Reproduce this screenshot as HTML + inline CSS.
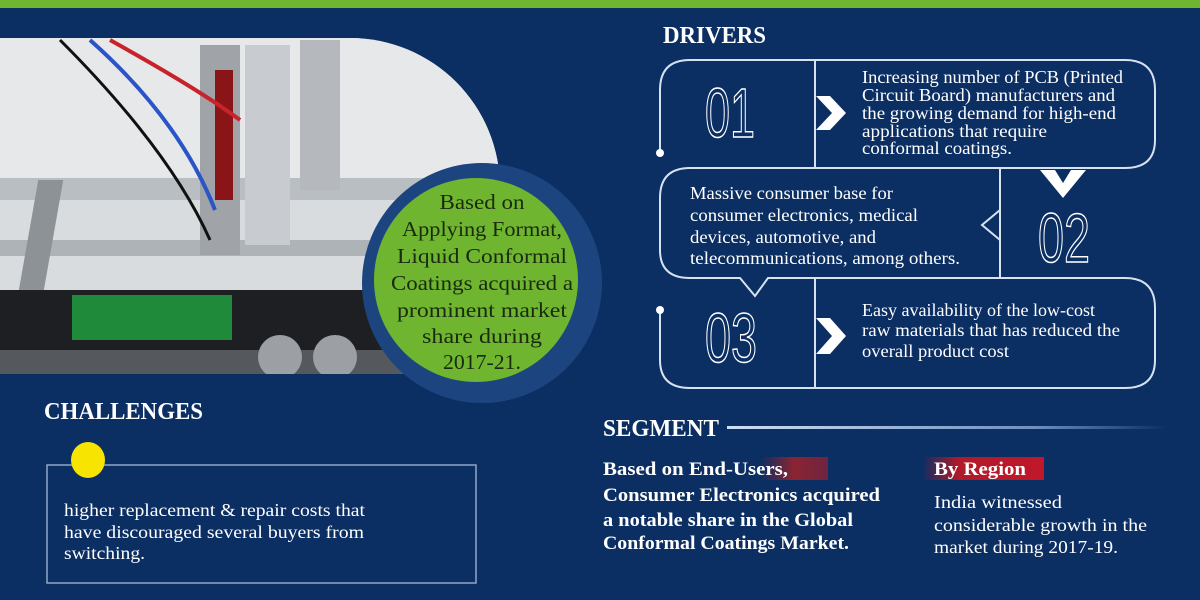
<!DOCTYPE html>
<html><head><meta charset="utf-8"><style>
body{margin:0;width:1200px;height:600px;background:#0b2e63;position:relative;overflow:hidden}
svg text{font-family:"Liberation Serif",serif}
</style></head><body>
<svg style="position:absolute;left:0;top:0" width="1200" height="600">
<defs><clipPath id="ph"><path d="M0 38 H350 A150 150 0 0 1 500 188 V374 H0Z"/></clipPath>
<linearGradient id="sg" x1="0" x2="1"><stop offset="0" stop-color="#cfe0f5"/><stop offset="0.7" stop-color="#6f8fc0"/><stop offset="1" stop-color="#0b2e63"/></linearGradient>
<linearGradient id="r1" x1="0" x2="1"><stop offset="0" stop-color="#8b2332" stop-opacity="0"/><stop offset="0.5" stop-color="#8b2332"/><stop offset="1" stop-color="#6e2440"/></linearGradient>
<linearGradient id="r2" x1="0" x2="1"><stop offset="0" stop-color="#b01a2a" stop-opacity="0"/><stop offset="0.3" stop-color="#b01a2a"/><stop offset="1" stop-color="#c0182a"/></linearGradient></defs>
<rect x="0" y="0" width="1200" height="8" fill="#6fb52f"/>
<g clip-path="url(#ph)">
<rect x="0" y="38" width="500" height="336" fill="#d9dcdf"/>
<rect x="0" y="38" width="500" height="140" fill="#e6e8ea"/>
<rect x="0" y="178" width="500" height="22" fill="#b9bec3"/>
<rect x="0" y="240" width="500" height="16" fill="#aeb3b8"/>
<rect x="70" y="180" width="25" height="110" fill="#8d9297" transform="skewX(-10)"/>
<rect x="0" y="290" width="500" height="60" fill="#1d1f22"/>
<rect x="0" y="350" width="500" height="24" fill="#55595d"/>
<rect x="72" y="295" width="160" height="45" fill="#1f8a3a"/>
<rect x="200" y="45" width="40" height="210" fill="#a0a4a8"/>
<rect x="215" y="70" width="18" height="130" fill="#8a1518"/>
<rect x="245" y="45" width="45" height="200" fill="#c8ccd0"/>
<rect x="300" y="40" width="40" height="150" fill="#b5b9bd"/>
<path d="M90 40 Q180 120 215 210" stroke="#2a55c8" stroke-width="4" fill="none"/>
<path d="M60 40 Q170 150 210 240" stroke="#111" stroke-width="3" fill="none"/>
<path d="M110 40 Q200 90 240 120" stroke="#c8232a" stroke-width="4" fill="none"/>
<circle cx="280" cy="357" r="22" fill="#9ca0a5"/><circle cx="335" cy="357" r="22" fill="#9ca0a5"/>
</g>
<circle cx="482" cy="283" r="120" fill="#1c4580"/>
<circle cx="476" cy="280" r="102" fill="#6fb52f"/>
<g fill="none" stroke="#d7e2f0" stroke-width="2">
<path d="M815 60 H690 Q660 60 660 90 V152"/>
<path d="M815 60 H1125 Q1155 60 1155 90 V140 Q1155 168 1125 168 H815 V60"/>
<path d="M1000 168 H690 Q660 168 660 198 V250 Q660 278 690 278 H740 L755 296 L768 278 H1000 V240 L982 225 L1000 210 Z"/>
<path d="M1000 168 V278"/>
<path d="M660 310 V360 Q660 388 690 388 H815 V278"/>
<path d="M815 278 H1125 Q1155 278 1155 308 V360 Q1155 388 1125 388 H815"/>
</g>
<circle cx="660" cy="153" r="4" fill="#fff"/><circle cx="660" cy="310" r="4" fill="#fff"/>
<path d="M816 96 L830 96 L846 113 L830 130 L816 130 L832 113Z" fill="#fff"/>
<path d="M816 318 L830 318 L846 336 L830 354 L816 354 L832 336Z" fill="#fff"/>
<path d="M1040 170 L1055 170 L1063 183 L1071 170 L1086 170 L1063 198Z" fill="#fff"/>
<g font-size="70" fill="none" stroke="#fff" stroke-width="1.5">
<text x="705" y="137" textLength="50" lengthAdjust="spacingAndGlyphs" style="font-family:'Liberation Sans',sans-serif">01</text>
<text x="1038" y="262" textLength="52" lengthAdjust="spacingAndGlyphs" style="font-family:'Liberation Sans',sans-serif">02</text>
<text x="705" y="362" textLength="52" lengthAdjust="spacingAndGlyphs" style="font-family:'Liberation Sans',sans-serif">03</text>
</g>
<rect x="47" y="465" width="429" height="118" fill="none" stroke="#8fa6c8" stroke-width="1.5"/>
<ellipse cx="88" cy="460" rx="17" ry="18" fill="#f7e400"/>
<rect x="727" y="426" width="440" height="3" fill="url(#sg)"/>
<rect x="760" y="457" width="68" height="23" fill="url(#r1)"/>
<rect x="922" y="457" width="122" height="23" fill="url(#r2)"/>
<g fill="#fff" font-weight="bold" font-size="24" lengthAdjust="spacingAndGlyphs">
<text x="663" y="43" textLength="103" lengthAdjust="spacingAndGlyphs">DRIVERS</text>
<text x="44" y="419" textLength="159" lengthAdjust="spacingAndGlyphs">CHALLENGES</text>
<text x="603" y="436" textLength="116" lengthAdjust="spacingAndGlyphs">SEGMENT</text>
</g>
<g fill="#fff" font-size="18">
<text x="862" y="83" textLength="261" lengthAdjust="spacingAndGlyphs">Increasing number of PCB (Printed</text>
<text x="862" y="101" textLength="253" lengthAdjust="spacingAndGlyphs">Circuit Board) manufacturers and</text>
<text x="862" y="119" textLength="254" lengthAdjust="spacingAndGlyphs">the growing demand for high-end</text>
<text x="862" y="137" textLength="185" lengthAdjust="spacingAndGlyphs">applications that require</text>
<text x="862" y="154" textLength="150" lengthAdjust="spacingAndGlyphs">conformal coatings.</text>
<text x="690" y="199" textLength="203" lengthAdjust="spacingAndGlyphs">Massive consumer base for</text>
<text x="690" y="221" textLength="228" lengthAdjust="spacingAndGlyphs">consumer electronics, medical</text>
<text x="690" y="243" textLength="186" lengthAdjust="spacingAndGlyphs">devices, automotive, and</text>
<text x="690" y="264" textLength="270" lengthAdjust="spacingAndGlyphs">telecommunications, among others.</text>
<text x="862" y="316" textLength="233" lengthAdjust="spacingAndGlyphs">Easy availability of the low-cost</text>
<text x="862" y="336" textLength="258" lengthAdjust="spacingAndGlyphs">raw materials that has reduced the</text>
<text x="862" y="357" textLength="147" lengthAdjust="spacingAndGlyphs">overall product cost</text>
<text x="64" y="516" textLength="301" lengthAdjust="spacingAndGlyphs">higher replacement &amp; repair costs that</text>
<text x="64" y="538" textLength="300" lengthAdjust="spacingAndGlyphs">have discouraged several buyers from</text>
<text x="64" y="559" textLength="81" lengthAdjust="spacingAndGlyphs">switching.</text>
<text x="934" y="508" textLength="128" lengthAdjust="spacingAndGlyphs">India witnessed</text>
<text x="934" y="531" textLength="213" lengthAdjust="spacingAndGlyphs">considerable growth in the</text>
<text x="934" y="553" textLength="184" lengthAdjust="spacingAndGlyphs">market during 2017-19.</text>
</g>
<g fill="#fff" font-size="19" font-weight="bold">
<text x="603" y="475" textLength="185" lengthAdjust="spacingAndGlyphs">Based on End-Users,</text>
<text x="603" y="501" textLength="277" lengthAdjust="spacingAndGlyphs">Consumer Electronics acquired</text>
<text x="603" y="526" textLength="250" lengthAdjust="spacingAndGlyphs">a notable share in the Global</text>
<text x="603" y="549" textLength="246" lengthAdjust="spacingAndGlyphs">Conformal Coatings Market.</text>
<text x="934" y="475" textLength="92" lengthAdjust="spacingAndGlyphs">By Region</text>
</g>
<g fill="#1a2a10" font-size="21" text-anchor="middle">
<text x="482" y="209" textLength="85" lengthAdjust="spacingAndGlyphs">Based on</text>
<text x="482" y="236" textLength="160" lengthAdjust="spacingAndGlyphs">Applying Format,</text>
<text x="482" y="263" textLength="170" lengthAdjust="spacingAndGlyphs">Liquid Conformal</text>
<text x="482" y="290" textLength="182" lengthAdjust="spacingAndGlyphs">Coatings acquired a</text>
<text x="482" y="317" textLength="170" lengthAdjust="spacingAndGlyphs">prominent market</text>
<text x="482" y="343" textLength="120" lengthAdjust="spacingAndGlyphs">share during</text>
<text x="482" y="369" textLength="78" lengthAdjust="spacingAndGlyphs">2017-21.</text>
</g>
</svg>
</body></html>
